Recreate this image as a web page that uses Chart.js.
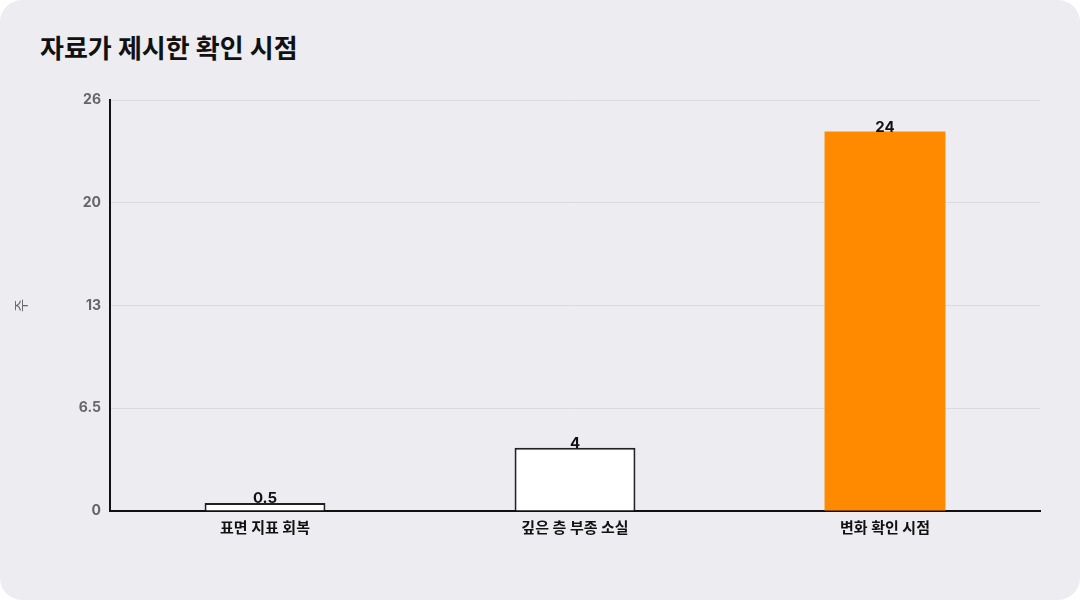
<!DOCTYPE html>
<html lang="ko">
<head>
<meta charset="utf-8">
<script src="https://cdn.jsdelivr.net/npm/chart.js@4/dist/chart.umd.min.js"></script>
<style>
  html, body { margin: 0; padding: 0; background: #ffffff; }
  .card {
    position: relative;
    width: 1080px;
    height: 600px;
    background: #ececf1;
    border-radius: 22px;
    overflow: hidden;
    font-family: Inter, "Noto Sans CJK KR", sans-serif;
  }
  .title {
    position: absolute;
    left: 40px;
    top: 28px;
    font-size: 26px;
    font-weight: 700;
    color: #111;
  }
  .chart-box {
    position: absolute;
    left: 0;
    top: 80px;
    width: 1080px;
    height: 470px;
  }
</style>
</head>
<body>
<div class="card">
  <div class="title">자료가 제시한 확인 시점</div>
  <div class="chart-box"><canvas id="chart"></canvas></div>
</div>
<script>
// chart data
const categories = ['표면 지표 회복', '깊은 층 부종 소실', '변화 확인 시점'];
const weeks = [0.5, 4, 24];
const valueLabels = ['0.5', '4', '24'];
const tickValues = [0, 6.5, 13, 19.5, 26];
const tickLabels = ['0', '6.5', '13', '20', '26'];
const axisTitle = '주';

const FONT = 'Inter, "Noto Sans CJK KR", sans-serif';

// draws the value above each bar
const valueLabelPlugin = {
    id: 'valueLabels',
    afterDatasetsDraw(chart) {
        const ctx = chart.ctx;
        const meta = chart.getDatasetMeta(0);
        ctx.save();
        ctx.font = '700 15px ' + FONT;
        ctx.fillStyle = '#111';
        ctx.textAlign = 'center';
        ctx.textBaseline = 'bottom';
        meta.data.forEach((bar, i) => {
            ctx.fillText(valueLabels[i], bar.x, bar.y + 3);
        });
        ctx.restore();
    }
};

const ctx = document.getElementById('chart').getContext('2d');
new Chart(ctx, {
    type: 'bar',
    data: {
        labels: categories,
        datasets: [{
            data: weeks,
            backgroundColor: ['#ffffff', '#ffffff', '#ff8a00'],
            borderColor: ['#222222', '#222222', '#ff8a00'],
            borderWidth: [2, 2, 0],
            barPercentage: 0.78,
            categoryPercentage: 0.5
        }]
    },
    options: {
        responsive: true,
        maintainAspectRatio: false,
        animation: false,
        layout: { padding: { top: 20, right: 40, left: 0, bottom: 0 } },
        plugins: {
            legend: { display: false },
            tooltip: { enabled: false }
        },
        scales: {
            x: {
                grid: { display: false, drawTicks: false },
                border: { display: true, color: '#111', width: 2 },
                ticks: {
                    padding: 8,
                    color: '#111',
                    font: { family: FONT, size: 15, weight: '700' }
                },
                afterFit(scale) { scale.height = 39; }
            },
            y: {
                min: 0,
                max: 26,
                afterBuildTicks(scale) {
                    scale.ticks = tickValues.map(v => ({ value: v }));
                },
                grid: { color: '#d9d9df', lineWidth: 1, drawTicks: false },
                border: { display: true, color: '#111', width: 2 },
                ticks: {
                    padding: 9,
                    color: '#666',
                    font: { family: FONT, size: 14, weight: '700' },
                    callback: (v, i) => tickLabels[i]
                },
                title: {
                    display: true,
                    text: axisTitle,
                    color: '#666',
                    font: { family: FONT, size: 14 },
                    padding: { top: 13, bottom: 0 }
                },
                afterFit(scale) { scale.width = 110; }
            }
        }
    },
    plugins: [valueLabelPlugin]
});
</script>
</body>
</html>
